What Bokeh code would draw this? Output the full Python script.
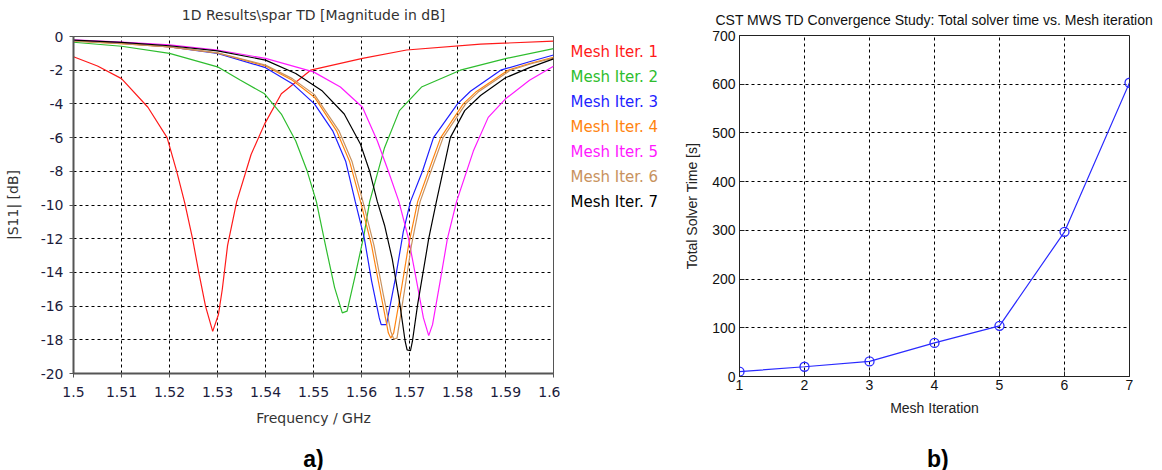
from bokeh.plotting import figure
from bokeh.layouts import row, column
from bokeh.models import Range1d, FixedTicker
from bokeh.core.properties import value
from bokeh.embed import file_html
from bokeh.resources import INLINE

# ---- S11 magnitude (dB) per mesh iteration ----
freq_1 = [1.500, 1.505, 1.510, 1.5155, 1.5195, 1.5215, 1.5232, 1.5248, 1.5261, 1.5275, 1.529,
          1.5302, 1.531, 1.5321, 1.534, 1.537, 1.5398, 1.5433, 1.5494, 1.5602, 1.5694, 1.5848, 1.600]
s11_1 = [-1.2, -1.75, -2.5, -4.2, -6.0, -8.0, -9.9, -12.0, -14.0, -16.0, -17.5,
         -16.5, -15.0, -12.4, -9.8, -7.0, -5.2, -3.4, -2.0, -1.3, -0.8, -0.45, -0.28]

freq_2 = [1.500, 1.510, 1.520, 1.530, 1.5348, 1.5398, 1.5433, 1.5463, 1.5487, 1.5506, 1.5525,
          1.5544, 1.556, 1.557, 1.5586, 1.5605, 1.5617, 1.5648, 1.5679, 1.5725, 1.5806, 1.5902, 1.600]
s11_2 = [-0.34, -0.58, -1.0, -1.8, -2.6, -3.4, -4.6, -6.2, -8.0, -9.8, -12.4,
         -14.9, -16.4, -16.3, -14.3, -11.8, -9.8, -6.6, -4.4, -3.0, -2.0, -1.3, -0.72]

freq_3 = [1.500, 1.510, 1.520, 1.530, 1.540, 1.5456, 1.5502, 1.554, 1.5567, 1.5587, 1.5606,
          1.5621, 1.5637, 1.5641, 1.5652, 1.5656, 1.5671, 1.5687, 1.5702, 1.5727, 1.575,
          1.580, 1.5827, 1.589, 1.595, 1.600]
s11_3 = [-0.24, -0.4, -0.62, -1.0, -1.85, -2.8, -4.0, -5.6, -7.4, -9.8, -12.0,
         -14.5, -16.7, -17.1, -17.1, -16.5, -14.3, -11.6, -9.8, -8.0, -6.0,
         -4.0, -3.25, -2.0, -1.5, -1.1]

freq_4 = [1.500, 1.510, 1.520, 1.530, 1.540, 1.5456, 1.5502, 1.5548, 1.5575, 1.5598, 1.5621,
          1.5641, 1.5656, 1.5661, 1.5667, 1.5683, 1.5698, 1.5717, 1.5742, 1.5765,
          1.5812, 1.5838, 1.5905, 1.595, 1.600]
s11_4 = [-0.26, -0.42, -0.62, -0.98, -1.75, -2.6, -3.6, -5.6, -7.4, -9.8, -12.4,
         -15.4, -17.6, -17.9, -17.6, -15.0, -12.4, -9.8, -7.8, -6.0,
         -4.0, -3.3, -2.0, -1.6, -1.23]

freq_5 = [1.500, 1.510, 1.520, 1.530, 1.540, 1.550, 1.5556, 1.5602, 1.5633, 1.5656, 1.5678,
          1.5698, 1.5714, 1.5729, 1.574, 1.5748, 1.5764, 1.5779, 1.5798, 1.5833, 1.5864,
          1.590, 1.595, 1.600]
s11_5 = [-0.2, -0.33, -0.5, -0.8, -1.3, -2.1, -3.0, -4.2, -6.2, -8.0, -9.8,
         -12.0, -14.4, -16.7, -17.75, -17.1, -14.5, -12.0, -9.8, -6.8, -4.8,
         -3.7, -2.6, -1.77]

freq_6 = [1.500, 1.510, 1.520, 1.530, 1.540, 1.5456, 1.5502, 1.5553, 1.558, 1.5603, 1.5626,
          1.5646, 1.5661, 1.5667, 1.5674, 1.569, 1.5704, 1.5722, 1.5747, 1.577,
          1.5817, 1.5843, 1.591, 1.5955, 1.600]
s11_6 = [-0.27, -0.43, -0.62, -0.97, -1.7, -2.5, -3.45, -5.6, -7.4, -9.8, -12.4,
         -15.4, -17.5, -17.95, -17.9, -15.0, -12.4, -9.8, -7.8, -6.0,
         -4.0, -3.3, -2.0, -1.6, -1.28]

freq_7 = [1.500, 1.510, 1.520, 1.530, 1.540, 1.5463, 1.5517, 1.5564, 1.5598, 1.5617, 1.5633,
          1.5648, 1.5664, 1.5679, 1.5691, 1.5695, 1.5702, 1.5706, 1.5717, 1.5733, 1.574,
          1.5756, 1.5785, 1.5815, 1.5848, 1.590, 1.595, 1.600]
s11_7 = [-0.22, -0.35, -0.55, -0.85, -1.4, -2.2, -3.2, -4.6, -6.4, -8.0, -9.8,
         -11.2, -13.2, -15.7, -18.1, -18.6, -18.65, -18.1, -15.9, -13.2, -12.0,
         -9.8, -6.0, -4.4, -3.5, -2.45, -1.85, -1.33]

series_names = ["Mesh Iter. 1", "Mesh Iter. 2", "Mesh Iter. 3", "Mesh Iter. 4",
                "Mesh Iter. 5", "Mesh Iter. 6", "Mesh Iter. 7"]
series_colors = ["#ff1a1a", "#2ebd2e", "#1f1fff", "#ff8410", "#ff1aff", "#c8925e", "#000000"]
freq_ticks = [1.5, 1.51, 1.52, 1.53, 1.54, 1.55, 1.56, 1.57, 1.58, 1.59, 1.6]
s11_ticks = [0, -2, -4, -6, -8, -10, -12, -14, -16, -18, -20]

# ---- total solver time per mesh iteration ----
mesh_iter = [1, 2, 3, 4, 5, 6, 7]
solver_time = [10, 20, 31, 69, 104, 297, 603]
iter_ticks = [1, 2, 3, 4, 5, 6, 7]
time_ticks = [0, 100, 200, 300, 400, 500, 600, 700]

left_title = "1D Results\\spar TD [Magnitude in dB]"
right_title = "CST MWS TD Convergence Study: Total solver time vs. Mesh iteration"
panel_tags = ["a)", "b)"]

CST_FONT = "DejaVu Sans"
ML_FONT = "Liberation Sans"
TOTAL_H = 470
TAG_H = 34                 # caption strip underneath each chart
L_HEAD = 30                # title strip above the S11 chart
LEFT_W, LEGEND_W, RIGHT_W = 560, 120, 482


def blank_strip(width, height, x_range):
    """Axis-less strip; in a column its frame lines up with the chart's frame,
    so it shares that chart's x range. y runs top-down in pixels."""
    s = figure(width=width, height=height, x_range=x_range, y_range=Range1d(height, 0),
               output_backend="svg", toolbar_location=None,
               x_axis_location=None, y_axis_location=None,
               min_border_left=0, min_border_right=0, min_border_top=0, min_border_bottom=0)
    s.grid.visible = False
    s.outline_line_color = None
    s.background_fill_color = "white"
    s.border_fill_color = "white"
    return s


# ================= left panel: S-parameter sweep =================
p_h = TOTAL_H - TAG_H - L_HEAD
p = figure(width=LEFT_W, height=p_h, x_range=Range1d(1.5, 1.6), y_range=Range1d(-20, 0),
           output_backend="svg", toolbar_location=None,
           min_border_left=73, min_border_right=7, min_border_top=36 - L_HEAD,
           min_border_bottom=p_h - (373 - L_HEAD))
p.background_fill_color = "white"
p.border_fill_color = "white"
p.outline_line_color = "#555555"
p.outline_line_width = 1

for ax in (p.xaxis[0], p.yaxis[0]):
    ax.axis_line_color = "#555555"
    ax.axis_line_width = 2
    ax.major_tick_line_color = "#555555"
    ax.major_tick_out = 4
    ax.major_tick_in = 0
    ax.minor_tick_line_color = None
    ax.major_label_text_font = CST_FONT
    ax.major_label_text_font_size = "14px"
    ax.major_label_text_color = "#1c1c3c"
    ax.axis_label_text_font = CST_FONT
    ax.axis_label_text_font_size = "14px"
    ax.axis_label_text_font_style = "normal"
    ax.axis_label_text_color = "#333333"

p.xaxis.ticker = FixedTicker(ticks=freq_ticks)
p.xaxis.major_label_overrides = {t: f"{t:g}" for t in freq_ticks}
p.xaxis.major_label_standoff = 9
p.xaxis.axis_label = "Frequency / GHz"
p.xaxis.axis_label_standoff = 10

p.yaxis.ticker = FixedTicker(ticks=s11_ticks)
p.yaxis.major_label_overrides = {t: str(t) for t in s11_ticks}
p.yaxis.major_label_standoff = 6
p.yaxis.axis_label = "|S11| [dB]"
p.yaxis.axis_label_standoff = 17

for g in (p.xgrid[0], p.ygrid[0]):
    g.grid_line_color = "black"
    g.grid_line_dash = "3 3"
    g.grid_line_width = 1

curves = [(freq_1, s11_1), (freq_2, s11_2), (freq_3, s11_3), (freq_4, s11_4),
          (freq_5, s11_5), (freq_6, s11_6), (freq_7, s11_7)]
for (f, s), c in zip(curves, series_colors):
    p.line(f, s, line_color=c, line_width=1.2)

f_mid = (p.x_range.start + p.x_range.end) / 2

head_a = blank_strip(LEFT_W, L_HEAD, p.x_range)
head_a.text(x=[f_mid], y=[14], text=[left_title], text_font=value(CST_FONT),
            text_font_size="14px", text_color="#333333",
            text_align="center", text_baseline="middle")

tag_a = blank_strip(LEFT_W, TAG_H, p.x_range)
tag_a.text(x=[f_mid], y=[22], text=[panel_tags[0]], text_font=value("Liberation Sans"),
           text_font_size="23px", text_font_style="bold", text_color="black",
           text_align="center", text_baseline="middle")

# ================= legend strip (coloured series names) =================
lg = blank_strip(LEGEND_W, TOTAL_H, Range1d(0, LEGEND_W))
lg.text(x=[10] * len(series_names), y=[51.5 + 25 * i for i in range(len(series_names))],
        text=series_names, text_color=series_colors, text_font=value(CST_FONT),
        text_font_size="15px", text_baseline="middle", text_align="left")

# ================= right panel: solver time =================
q_h = TOTAL_H - TAG_H
q = figure(width=RIGHT_W, height=q_h, x_range=Range1d(1, 7), y_range=Range1d(0, 700),
           output_backend="svg", toolbar_location=None,
           min_border_left=59, min_border_right=33, min_border_top=35,
           min_border_bottom=q_h - 376)
q.background_fill_color = "white"
q.border_fill_color = "white"
q.outline_line_color = "#222222"
q.outline_line_width = 1

q.title.text = right_title
q.title.align = "center"
q.title.text_font = ML_FONT
q.title.text_font_size = "14px"
q.title.text_font_style = "normal"
q.title.text_color = "#111111"
q.title.standoff = 16

for ax in (q.xaxis[0], q.yaxis[0]):
    ax.axis_line_color = "#222222"
    ax.axis_line_width = 1
    ax.major_tick_line_color = "#222222"
    ax.major_tick_out = 0
    ax.major_tick_in = 5
    ax.minor_tick_line_color = None
    ax.major_label_text_font = ML_FONT
    ax.major_label_text_font_size = "14px"
    ax.major_label_text_color = "#111111"
    ax.axis_label_text_font = ML_FONT
    ax.axis_label_text_font_size = "14px"
    ax.axis_label_text_font_style = "normal"
    ax.axis_label_text_color = "#222222"

q.xaxis.ticker = FixedTicker(ticks=iter_ticks)
q.xaxis.major_label_standoff = 3
q.xaxis.axis_label = "Mesh Iteration"
q.xaxis.axis_label_standoff = 7

q.yaxis.ticker = FixedTicker(ticks=time_ticks)
q.yaxis.major_label_standoff = 4
q.yaxis.axis_label = "Total Solver Time [s]"
q.yaxis.axis_label_standoff = 9

for g in (q.xgrid[0], q.ygrid[0]):
    g.grid_line_color = "black"
    g.grid_line_dash = "3 3"
    g.grid_line_width = 1

q.line(mesh_iter, solver_time, line_color="#2a2aff", line_width=1.2)
q.scatter(mesh_iter, solver_time, marker="circle", size=9, fill_color=None,
          line_color="#2a2aff", line_width=1.3)

tag_b = blank_strip(RIGHT_W, TAG_H, q.x_range)
tag_b.text(x=[(q.x_range.start + q.x_range.end) / 2 + 0.05], y=[22], text=[panel_tags[1]],
           text_font=value("Liberation Sans"), text_font_size="23px", text_font_style="bold",
           text_color="black", text_align="center", text_baseline="middle")

layout = row(column(head_a, p, tag_a), lg, column(q, tag_b))
open("out.html", "w").write(file_html(layout, INLINE))
